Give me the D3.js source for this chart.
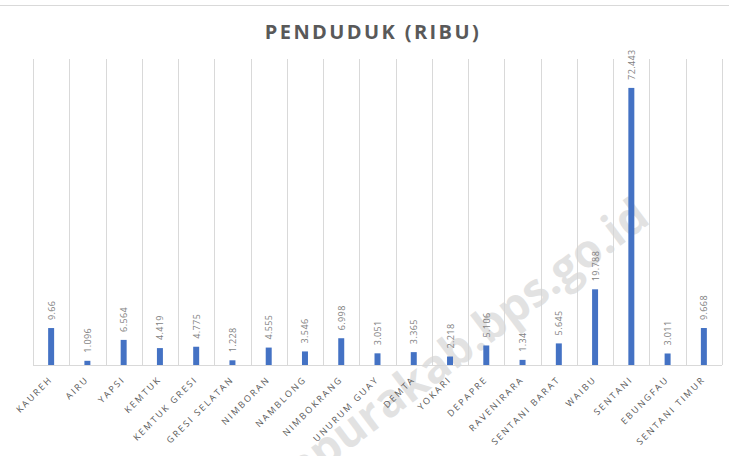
<!DOCTYPE html>
<html><head><meta charset="utf-8">
<script src="https://cdn.jsdelivr.net/npm/d3@7"></script>
<style>html,body{margin:0;padding:0;background:#fff;}svg{display:block;}</style>
</head><body>
<script>
const categories = ["KAUREH","AIRU","YAPSI","KEMTUK","KEMTUK GRESI","GRESI SELATAN","NIMBORAN","NAMBLONG","NIMBOKRANG","UNURUM GUAY","DEMTA","YOKARI","DEPAPRE","RAVENIRARA","SENTANI BARAT","WAIBU","SENTANI","EBUNGFAU","SENTANI TIMUR"];
const values = [9.66,1.096,6.564,4.419,4.775,1.228,4.555,3.546,6.998,3.051,3.365,2.218,5.106,1.34,5.645,19.788,72.443,3.011,9.668];
const valueLabels = ["9.66","1.096","6.564","4.419","4.775","1.228","4.555","3.546","6.998","3.051","3.365","2.218","5.106","1.34","5.645","19.788","72.443","3.011","9.668"];
const yDomain = [0, 80];
const chartTitle = "PENDUDUK (RIBU)";
const watermark = "jayapurakab.bps.go.id";

const W = 729, H = 456;
const mLeft = 33, mRight = 722, mTop = 59, mBottom = 365;

const svg = d3.select("body").append("svg").attr("width", W).attr("height", H);

svg.append("line").attr("x1",0).attr("x2",W).attr("y1",5.5).attr("y2",5.5)
  .attr("stroke","#d9d9d9").attr("stroke-width",1);

svg.append("text").attr("x", 373).attr("y", 39)
  .attr("text-anchor","middle")
  .attr("font-family","'Open Sans'").attr("font-weight","bold")
  .attr("font-size","20px").attr("letter-spacing","2.4px")
  .attr("fill","#595959").text(chartTitle);

const xGrid = d3.scaleBand().domain(categories).range([mLeft, mRight]).padding(0);
const xBar = d3.scaleBand().domain(categories).range([mLeft, mRight]).paddingInner(0.835).paddingOuter(0.4175);
const y = d3.scaleLinear().domain(yDomain).range([mBottom, mTop]);

const bounds = categories.map(c => xGrid(c)).concat([xGrid(categories[categories.length-1]) + xGrid.bandwidth()]);
svg.append("g").selectAll("line").data(bounds).join("line")
  .attr("x1", d => Math.round(d)+0.5).attr("x2", d => Math.round(d)+0.5)
  .attr("y1", y(yDomain[1])).attr("y2", y(0))
  .attr("stroke","#d9d9d9").attr("stroke-width",1);

svg.append("text")
  .attr("transform","translate(652,222) rotate(-37)")
  .attr("text-anchor","end")
  .attr("font-family","'Open Sans'").attr("font-weight","bold")
  .attr("font-size","46px")
  .attr("fill","#d6d6d6").attr("fill-opacity",0.7)
  .text(watermark);

svg.append("line").attr("x1",mLeft).attr("x2",mRight).attr("y1",y(0)+0.5).attr("y2",y(0)+0.5)
  .attr("stroke","#d9d9d9").attr("stroke-width",1);

svg.append("g").selectAll("rect").data(values).join("rect")
  .attr("x", (d,i) => xBar(categories[i]))
  .attr("width", xBar.bandwidth())
  .attr("y", d => y(d))
  .attr("height", d => y(0) - y(d))
  .attr("fill","#4472c4");

svg.append("g").selectAll("text").data(values).join("text")
  .attr("transform", (d,i) => `translate(${xGrid(categories[i]) + xGrid.bandwidth()/2 + 3.5},${y(d) - 8}) rotate(-90)`)
  .attr("text-anchor","start")
  .attr("font-family","'Open Sans'").attr("font-size","9px")
  .attr("letter-spacing","0.4px")
  .attr("fill","#7f7f7f")
  .text((d,i) => valueLabels[i]);

svg.append("g").selectAll("text").data(categories).join("text")
  .attr("transform", c => `translate(${xGrid(c) + xGrid.bandwidth()/2 + 2},${mBottom + 15}) rotate(-45)`)
  .attr("text-anchor","end")
  .attr("font-family","'Open Sans'").attr("font-size","9px")
  .attr("letter-spacing","2px")
  .attr("fill","#595959")
  .text(c => c);
</script>
</body></html>
